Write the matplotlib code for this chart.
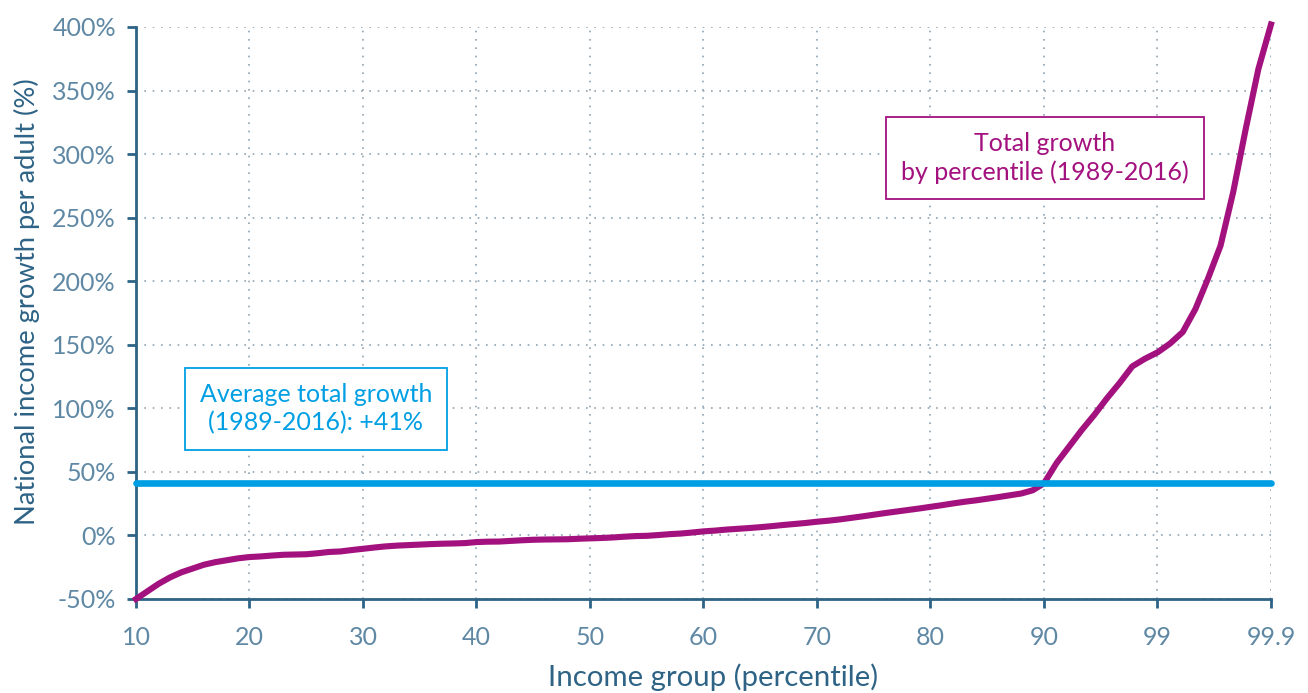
import numpy as np
import matplotlib
matplotlib.use("Agg")
import matplotlib.pyplot as plt

# ---------------- data ----------------
percentiles = list(range(10, 91)) + [91, 92, 93, 94, 95, 96, 97, 98, 99,
                                     99.1, 99.2, 99.3, 99.4, 99.5, 99.6, 99.7, 99.8, 99.9]
growth = [
    -50, -44, -38, -33, -29, -26, -23, -21, -19.5, -18,          # 10-19
    -17, -16.5, -15.8, -15.2, -15, -14.8, -14, -13, -12.6, -11.5,  # 20-29
    -10.5, -9.5, -8.6, -8, -7.6, -7.2, -6.8, -6.5, -6.3, -6,       # 30-39
    -5.2, -4.9, -4.8, -4.3, -3.8, -3.4, -3.2, -3.1, -3, -2.6,      # 40-49
    -2.3, -2, -1.6, -1, -0.5, -0.3, 0.3, 1, 1.5, 2.3,              # 50-59
    3.2, 3.8, 4.6, 5.2, 5.8, 6.5, 7.3, 8.2, 9, 9.8,                # 60-69
    10.8, 11.6, 12.6, 13.8, 15, 16.3, 17.6, 18.8, 20, 21.2,        # 70-79
    22.5, 23.8, 25.2, 26.5, 27.6, 28.9, 30.2, 31.6, 33, 35.5,      # 80-89
    41,                                                            # 90
    57, 70, 83, 95, 108, 120, 133, 139, 144,                       # 91-99
    151, 160, 178, 202, 228, 270, 320, 367, 402,                   # 99.1-99.9
]
avg_growth = 41

x_ticks = [10, 20, 30, 40, 50, 60, 70, 80, 90, 99, 99.9]
x_tick_labels = ["10", "20", "30", "40", "50", "60", "70", "80", "90", "99", "99.9"]
y_ticks = [-50, 0, 50, 100, 150, 200, 250, 300, 350, 400]
y_tick_labels = ["-50%", "0%", "50%", "100%", "150%", "200%", "250%", "300%", "350%", "400%"]

# ---------------- style ----------------
purple = "#a3117e"
blue = "#009fe3"
axis_col = "#2e6386"
tick_col = "#5f88a4"
grid_col = "#8fa3b3"

plt.rcParams['font.family'] = ['Lato', 'DejaVu Sans']


# x scale: 10..90 linear, 90..99 and 99..99.9 each squeezed into one grid step
def fwd(p):
    p = np.asarray(p, dtype=float)
    return np.where(p <= 90, p, np.where(p <= 99, 90 + (p - 90) * 10 / 9, 100 + (p - 99) * 100 / 9))


def inv(q):
    q = np.asarray(q, dtype=float)
    return np.where(q <= 90, q, np.where(q <= 100, 90 + (q - 90) * 0.9, 99 + (q - 100) * 0.09))


fig = plt.figure(figsize=(13.08, 6.93), dpi=100)
ax = fig.add_axes([136 / 1308, 94 / 693, 1135 / 1308, 572 / 693])
ax.set_xscale('function', functions=(fwd, inv))
ax.set_xlim(10, 99.9)
ax.set_ylim(-50, 400)

# grid
ax.set_xticks(x_ticks)
ax.set_xticklabels(x_tick_labels)
ax.set_yticks(y_ticks)
ax.set_yticklabels(y_tick_labels)
ax.grid(True, color=grid_col, linestyle=(0, (1, 4)), linewidth=1.2)
ax.set_axisbelow(True)

# lines
ax.plot(percentiles, growth, color=purple, lw=4.4, solid_joinstyle='round', clip_on=False, zorder=3)
ax.plot([10, 99.9], [avg_growth, avg_growth], color=blue, lw=4.8, solid_capstyle='round',
        clip_on=False, zorder=4)

# spines / ticks
for s in ['top', 'right']:
    ax.spines[s].set_visible(False)
for s in ['left', 'bottom']:
    ax.spines[s].set_color(axis_col)
    ax.spines[s].set_linewidth(2)
ax.tick_params(axis='both', colors=axis_col, width=2, length=6.5, labelcolor=tick_col, labelsize=18)
ax.tick_params(axis='y', pad=8)
ax.tick_params(axis='x', pad=13)

ax.set_xlabel("Income group (percentile)", fontsize=21.2, color=axis_col)
ax.set_ylabel("National income growth per adult (%)", fontsize=19.7, color=axis_col)
ax.xaxis.set_label_coords(0.508, -0.113)
ax.yaxis.set_label_coords(-0.085, 0.52)

# annotation boxes
ax.text((316 - 136) / 1135, (599 - 409) / 572, "Average total growth\n(1989-2016): +41%",
        transform=ax.transAxes, ha='center', va='center', fontsize=18, color=blue,
        linespacing=1.25, zorder=5,
        bbox=dict(boxstyle='square,pad=0.6', fc='white', ec=blue, lw=1.3))
ax.text((1045 - 136) / 1135, (599 - 158) / 572, "Total growth\nby percentile (1989-2016)",
        transform=ax.transAxes, ha='center', va='center', fontsize=18, color=purple,
        linespacing=1.25, zorder=5,
        bbox=dict(boxstyle='square,pad=0.6', fc='white', ec=purple, lw=1.3))

fig.savefig("out.png", dpi=100)
